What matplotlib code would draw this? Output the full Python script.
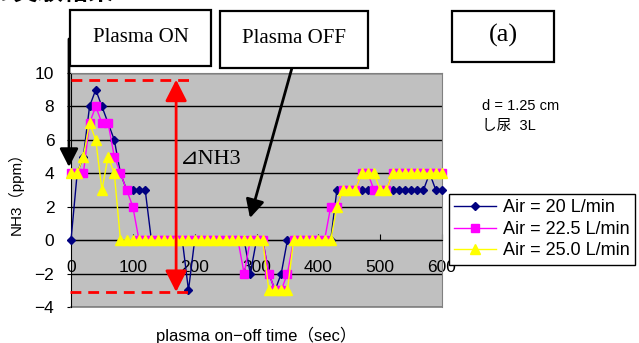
import numpy as np
import matplotlib.pyplot as plt
from matplotlib.patches import Rectangle

plt.rcParams['font.family'] = ['Liberation Sans', 'Noto Sans CJK JP', 'DejaVu Sans']

# sampling time (sec)
time_s = np.arange(0, 610, 10)

# NH3 (ppm), Air = 20 L/min
air_20 = [0, 4, 5, 8, 9, 8, 7, 6, 4, 3, 3, 3, 3,
          0, 0, 0, 0, 0, 0, -3,
          0, 0, 0, 0, 0, 0, 0, 0, 0, -2, 0, 0, -2, -3, -2,
          0, 0, 0, 0, 0, 0, 0, 0,
          3, 3, 3, 3, 3, 3, 3, 3, 3, 3, 3, 3, 3, 3, 3, 4, 3, 3]
# Air = 22.5 L/min
air_225 = [4, 4, 4, 7, 8, 7, 7, 5, 4, 3, 2,
           0, 0, 0, 0, 0, 0, 0, 0, 0, 0, 0, 0, 0, 0, 0, 0, 0,
           -2, 0, 0, 0, -2, -3, -3, -2,
           0, 0, 0, 0, 0, 0,
           2, 2, 3, 3, 3, 4, 4, 3, 3, 3,
           4, 4, 4, 4, 4, 4, 4, 4, 4]
# Air = 25.0 L/min
air_250 = [4, 4, 5, 7, 6, 3, 5, 4,
           0, 0, 0, 0, 0, 0, 0, 0, 0, 0, 0, 0, 0, 0, 0, 0,
           0, 0, 0, 0, 0, 0, 0, 0,
           -3, -3, -3, -3,
           0, 0, 0, 0, 0, 0, 0,
           2, 3, 3, 3, 4, 4, 4, 3, 3,
           4, 4, 4, 4, 4, 4, 4, 4, 4]

W, H = 639, 343
AX_L, AX_R = 71, 442


def fxy(px, py):
    return px / W, 1 - py / H


fig = plt.figure(figsize=(W / 100, H / 100), dpi=100)
ax = fig.add_axes([AX_L / W, 1 - 307 / H, (AX_R - AX_L) / W, (307 - 73) / H])
ax.set_facecolor('#c0c0c0')

ax.plot(time_s, air_20, color='#000080', marker='D', ms=4.5, lw=1, label='Air = 20 L/min', clip_on=False, zorder=3)
ax.plot(time_s, air_225, color='#ff00ff', marker='s', ms=6, lw=1, label='Air = 22.5 L/min', clip_on=False, zorder=4)
ax.plot(time_s, air_250, color='#ffff00', marker='^', ms=7, lw=1, label='Air = 25.0 L/min', clip_on=False, zorder=5)

ax.set_xlim(0, 600)
ax.set_ylim(-4, 10)
ax.set_yticks(range(-4, 11, 2))
ax.set_xticks(range(0, 601, 100))
ax.yaxis.grid(True, color='black', lw=1)
ax.set_axisbelow(True)
for s in ['top', 'right']:
    ax.spines[s].set_color('#808080')
ax.spines['bottom'].set_position(('data', 0))
ax.plot([0, 1], [0, 0], transform=ax.transAxes, color='#808080', lw=1.2, clip_on=False)
ax.tick_params(axis='x', direction='in', length=4, pad=14, labelsize=12.5)
ax.tick_params(axis='y', direction='out', length=3, pad=9, labelsize=12.5)

ax.set_ylabel('NH3（ppm）', fontsize=11)
ax.yaxis.set_label_coords((24 - AX_L) / (AX_R - AX_L), 0.5)
fig.text(*fxy(256, 335), 'plasma on−off time（sec）', ha='center', va='center', fontsize=12)

# delta NH3 marker
ax.plot([0, 197], [9.6, 9.6], color='red', lw=2, dashes=(3.9, 2.5), clip_on=False, zorder=6)
ax.plot([-2, 193], [-3.1, -3.1], color='red', lw=2, dashes=(3.9, 2.5), clip_on=False, zorder=6)
ax.annotate('', xy=(170, -3.1), xytext=(170, 9.6),
            arrowprops=dict(arrowstyle='<|-|>,head_length=0.65,head_width=0.33', color='red',
                            lw=2, mutation_scale=20, shrinkA=0, shrinkB=0), zorder=7)
fig.text(*fxy(211, 159), '⊿NH3', ha='center', va='center', fontsize=16,
         family=['Liberation Serif', 'DejaVu Serif', 'DejaVu Sans'])

# text boxes
for (x0, y0, x1, y1, label, fs) in [(70, 10, 211, 66, 'Plasma ON', 15),
                                    (220, 11, 368, 68, 'Plasma OFF', 15),
                                    (452, 11, 554, 62, '(a)', 19)]:
    fig.add_artist(Rectangle(fxy(x0, y1), (x1 - x0) / W, (y1 - y0) / H, transform=fig.transFigure,
                             facecolor='white', edgecolor='black', lw=1.6))
    fig.text(*fxy((x0 + x1) / 2, (y0 + y1) / 2 - 1), label, ha='center', va='center',
             fontsize=fs, family='Liberation Serif')

arrow = dict(arrowstyle='-|>,head_length=0.55,head_width=0.28', color='black', lw=2,
             mutation_scale=20, shrinkA=0, shrinkB=0)
ax.annotate('', xy=fxy(69, 167), xytext=fxy(69, 39), xycoords='figure fraction',
            textcoords='figure fraction', arrowprops=arrow, annotation_clip=False, zorder=8)
ax.annotate('', xy=fxy(250, 218), xytext=fxy(292.5, 66), xycoords='figure fraction',
            textcoords='figure fraction', arrowprops=arrow, annotation_clip=False, zorder=8)

fig.text(*fxy(482, 106), 'd = 1.25 cm', ha='left', va='center', fontsize=10.5)
fig.text(*fxy(482, 126), 'し尿  3L', ha='left', va='center', fontsize=10.5)
fig.text(*fxy(-12, -7), 'の実験結果', ha='left', va='center', fontsize=18, weight='bold',
         family='Noto Sans CJK JP')

leg = ax.legend(loc='upper left', bbox_to_anchor=fxy(449, 194), bbox_transform=fig.transFigure,
                fontsize=13, fancybox=False, edgecolor='black', framealpha=1, borderpad=0.3,
                labelspacing=0.25, handlelength=2.3, handletextpad=0.4, borderaxespad=0)
leg.get_frame().set_linewidth(1)

fig.savefig('out.png', dpi=100)
